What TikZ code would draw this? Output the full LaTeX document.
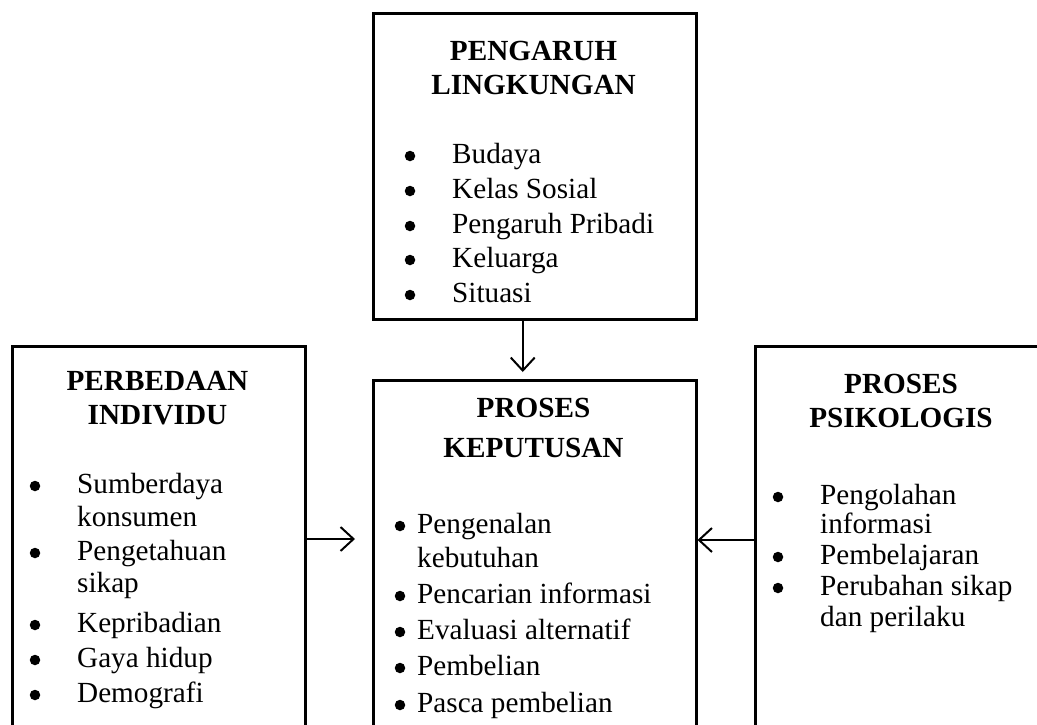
\documentclass[tikz,border=0pt]{standalone}
\usepackage{fontspec}
\setmainfont{Liberation Serif}
\usetikzlibrary{arrows.meta}
\begin{document}
\begin{tikzpicture}[x=1pt,y=-1pt,
 box/.style={draw,line width=2.5pt,inner sep=0pt,anchor=north west},
 arr/.style={line width=2pt,-{Straight Barb[length=13pt,width=24pt,line width=2pt]}},
 ttl/.style={anchor=base,font=\fontsize{29.2}{34}\selectfont\bfseries,inner sep=0pt},
 itm/.style={anchor=base west,font=\fontsize{29.2}{34}\selectfont,inner sep=0pt},
 bul/.style={circle,fill,inner sep=0pt,minimum size=10.5pt}]
\useasboundingbox (0,0) rectangle (1037,724);
\clip (0,0) rectangle (1037,724);
% boxes
\node[box,minimum width=323pt,minimum height=306pt] (top) at (372,12) {};
\node[box,minimum width=323pt,minimum height=400pt] (center) at (372,379) {};
\node[box,minimum width=293pt,minimum height=420pt] (left) at (11,345) {};
\node[box,minimum width=294pt,minimum height=420pt] (right) at (754,345) {};
% connectors
\coordinate (ly) at (0,539);
\coordinate (ry) at (0,540);
\draw[arr,shorten >=7pt] ([xshift=-12pt]top.south) -- ([xshift=-12pt]center.north);
\draw[arr,shorten >=17pt] (left.east |- ly) -- (center.west |- ly);
\draw[arr] (right.west |- ry) -- (center.east |- ry);
% top box text
\node[ttl] (t1) at (533.5,60) {PENGARUH};
\node[ttl] (t2) at (533.5,94) {LINGKUNGAN};
\foreach \y/\t [count=\i] in {163/Budaya,198/Kelas Sosial,233/Pengaruh Pribadi,267/Keluarga,302/Situasi}{
  \node[bul] (tb\i) at (410,\y-7) {};
  \node[itm] (ti\i) at (452,\y) {\t};
}
% left box text
\node[ttl] (l1) at (157.5,390) {PERBEDAAN};
\node[ttl] (l2) at (157.5,424) {INDIVIDU};
\foreach \y [count=\i] in {493,560,632,667,702}{
  \node[bul] (lb\i) at (35,\y-7) {};
}
\foreach \y/\t [count=\i] in {493/Sumberdaya,526/konsumen,560/Pengetahuan,592/sikap,632/Kepribadian,667/Gaya hidup,702/Demografi}{
  \node[itm] (li\i) at (77,\y) {\t};
}
% center box text
\node[ttl] (c1) at (533.5,417) {PROSES};
\node[ttl] (c2) at (533.5,457) {KEPUTUSAN};
\foreach \y [count=\i] in {533,603,639,675,712}{
  \node[bul] (cb\i) at (400,\y-7) {};
}
\foreach \y/\t [count=\i] in {533/Pengenalan,567/kebutuhan,603/Pencarian informasi,639/Evaluasi alternatif,675/Pembelian,712/Pasca pembelian}{
  \node[itm] (ci\i) at (417,\y) {\t};
}
% right box text
\node[ttl] (r1) at (901,393) {PROSES};
\node[ttl] (r2) at (901,427) {PSIKOLOGIS};
\foreach \y [count=\i] in {504,564,595}{
  \node[bul] (rb\i) at (778,\y-7) {};
}
\foreach \y/\t [count=\i] in {504/Pengolahan,533/informasi,564/Pembelajaran,595/Perubahan sikap,626/dan perilaku}{
  \node[itm] (ri\i) at (820,\y) {\t};
}
\end{tikzpicture}
\end{document}
